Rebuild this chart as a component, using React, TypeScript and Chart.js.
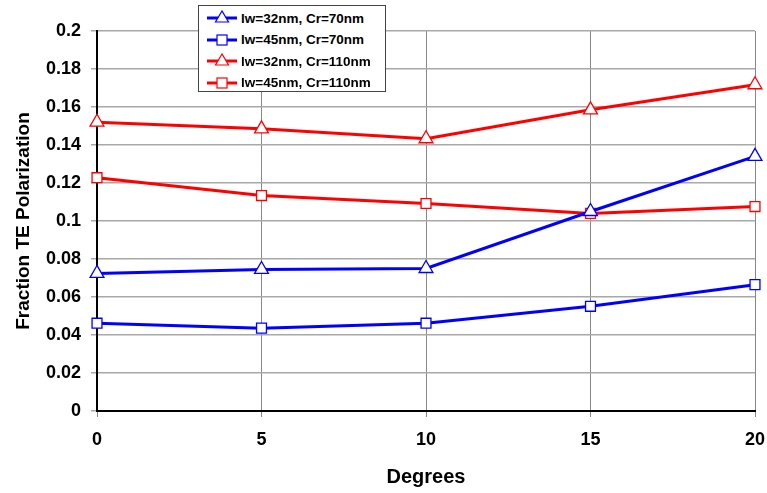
import React, { useEffect, useRef } from "react";
import { Chart, registerables } from "chart.js";
Chart.register(...registerables);

const degrees = [0, 5, 10, 15, 20];
const lw32Cr70 = [0.0724, 0.0745, 0.075, 0.105, 0.134];
const lw45Cr70 = [0.0462, 0.0436, 0.0462, 0.0551, 0.0665];
const lw32Cr110 = [0.152, 0.1485, 0.1433, 0.1585, 0.1717];
const lw45Cr110 = [0.1228, 0.1134, 0.1092, 0.104, 0.1076];
const seriesLabels = ["lw=32nm, Cr=70nm", "lw=45nm, Cr=70nm", "lw=32nm, Cr=110nm", "lw=45nm, Cr=110nm"];
const seriesColors = ["#0000ff", "#0000ff", "#ff0000", "#ff0000"];
const seriesMarkers = ["triangle", "rect", "triangle", "rect"];

const fam = "'Liberation Sans', Arial, sans-serif";
const tickFont = { family: fam, size: 18, weight: "bold" as const };

export default function App() {
  const ref = useRef<HTMLCanvasElement>(null);
  useEffect(() => {
    document.body.style.margin = "0";
    const values = [lw32Cr70, lw45Cr70, lw32Cr110, lw45Cr110];
    const chart = new Chart(ref.current!, {
      type: "line",
      data: {
        datasets: values.map((v, i) => ({
          label: seriesLabels[i],
          data: v.map((y, j) => ({ x: degrees[j], y })),
          borderColor: seriesColors[i],
          backgroundColor: "#ffffff",
          borderWidth: 3,
          pointStyle: seriesMarkers[i] as any,
          pointRadius: seriesMarkers[i] === "triangle" ? 8 : 7,
          pointBorderWidth: 1.3,
          pointBorderColor: seriesColors[i],
          pointBackgroundColor: "#ffffff",
          tension: 0,
          clip: false as any,
        })),
      },
      options: {
        animation: false,
        responsive: false,
        layout: { padding: { top: 31, right: 0, left: 8, bottom: 0 } },
        plugins: { legend: { display: false }, tooltip: { enabled: false } },
        scales: {
          x: {
            type: "linear",
            min: 0,
            max: 20,
            ticks: { stepSize: 5, color: "#000", font: tickFont, padding: 12 },
            grid: { color: "#888", lineWidth: 1, tickLength: 6 },
            border: { color: "#000", width: 2 },
            title: { display: true, text: "Degrees", color: "#000", font: { family: fam, size: 20, weight: "bold" }, padding: { top: 12 } },
            afterFit: (s: any) => { s.height = 82; s.paddingRight = 12; s.paddingLeft = 0; },
          },
          y: {
            min: 0,
            max: 0.2,
            ticks: { stepSize: 0.02, color: "#000", font: tickFont, padding: 10, callback: (v: any) => String(Math.round(Number(v) * 100) / 100) },
            grid: { color: "#a8a8a8", lineWidth: 1.5, tickLength: 6 },
            border: { color: "#000", width: 2 },
            title: { display: true, text: "Fraction TE Polarization", color: "#000", font: { family: fam, size: 19, weight: "bold" }, padding: { bottom: 0 } },
            afterFit: (s: any) => { s.width = 89; },
          },
        },
      },
    });
    return () => chart.destroy();
  }, []);

  return (
    <div style={{ position: "relative", width: 767, height: 493, background: "#fff" }}>
      <canvas ref={ref} width={767} height={493} style={{ display: "block" }} />
      <div style={{ position: "absolute", left: 198, top: 5, width: 186, height: 85, border: "1px solid #444", background: "#fff", fontFamily: fam, fontWeight: "bold", fontSize: 13.5, boxSizing: "content-box" }}>
        {seriesLabels.map((lab, i) => (
          <div key={i} style={{ position: "absolute", left: 0, top: 2 + i * 21.5, height: 20, display: "flex", alignItems: "center" }}>
            <svg width={42} height={20} style={{ display: "block" }}>
              <line x1={8} y1={10} x2={38} y2={10} stroke={seriesColors[i]} strokeWidth={3} />
              {seriesMarkers[i] === "triangle" ? (
                <polygon points="23,3 16.5,14 29.5,14" fill="#fff" stroke={seriesColors[i]} strokeWidth={1.2} />
              ) : (
                <rect x={18} y={5} width={10} height={10} fill="#fff" stroke={seriesColors[i]} strokeWidth={1.2} />
              )}
            </svg>
            <span style={{ color: "#000", whiteSpace: "nowrap" }}>{lab}</span>
          </div>
        ))}
      </div>
    </div>
  );
}
